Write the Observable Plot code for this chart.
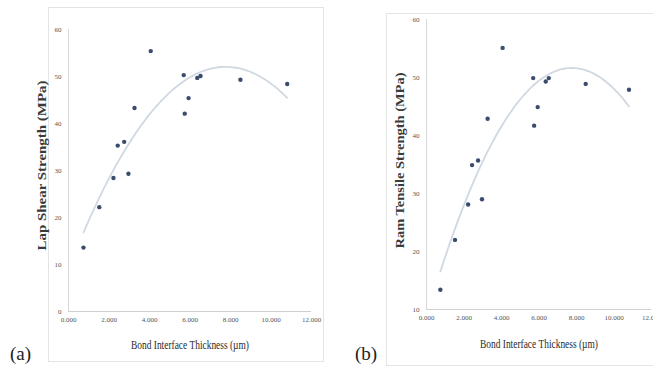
<!DOCTYPE html>
<html><head><meta charset="utf-8">
<script src="https://cdn.jsdelivr.net/npm/d3@7"></script>
<script src="https://cdn.jsdelivr.net/npm/@observablehq/plot@0.6"></script>
<style>
body{margin:0;background:#fff;}
#wrap{position:relative;width:653px;height:376px;overflow:hidden;background:#fff;font-family:"Liberation Serif",serif;}
.frame{position:absolute;border:1px solid #e4e4e4;box-sizing:border-box;}
.plot{position:absolute;top:0;}
.tag{position:absolute;font-size:19px;color:#222;line-height:1;}
</style></head><body>
<div id="wrap">
  <div class="frame" style="left:48px;top:7px;width:276px;height:355px;"></div>
  <div class="frame" style="left:386px;top:13px;width:280px;height:353px;"></div>
  <div id="pa" class="plot" style="left:0px;"></div>
  <div id="pb" class="plot" style="left:323px;"></div>
  <div class="tag" style="left:10px;top:344px;">(a)</div>
  <div class="tag" style="left:355px;top:344px;">(b)</div>
</div>
<script>
// Bond interface thickness (µm)
const thickness = [0.74, 1.52, 2.22, 2.43, 2.75, 2.96, 3.26, 4.06, 5.69, 5.74, 5.93, 6.36, 6.52, 8.49, 10.8];
// Lap shear strength (MPa) – panel (a)
const lapShear = [13.6, 22.2, 28.4, 35.3, 36.1, 29.3, 43.3, 55.4, 50.3, 42.1, 45.4, 49.7, 50.1, 49.3, 48.4];
// Ram tensile strength (MPa) – panel (b)
const ramTensile = [13.4, 22.0, 28.1, 34.9, 35.7, 29.0, 42.9, 55.1, 49.9, 41.7, 44.9, 49.3, 49.9, 48.9, 47.9];

const xTicks = [0, 2, 4, 6, 8, 10, 12];
const yTicksA = [0, 10, 20, 30, 40, 50, 60];
const yTicksB = [10, 20, 30, 40, 50, 60];
const xLabel = "Bond Interface Thickness (µm)";
const yLabelA = "Lap Shear Strength (MPa)";
const yLabelB = "Ram Tensile Strength (MPa)";

// least-squares polynomial (order 2) trendline, as in the spreadsheet chart
function polyFit(xs, ys) {
  const S = k => d3.sum(xs, x => x ** k);
  const T = k => d3.sum(xs, (x, i) => x ** k * ys[i]);
  const A = [[S(0), S(1), S(2)], [S(1), S(2), S(3)], [S(2), S(3), S(4)]];
  const b = [T(0), T(1), T(2)];
  for (let i = 0; i < 3; i++) {
    for (let j = i + 1; j < 3; j++) {
      const f = A[j][i] / A[i][i];
      for (let k = i; k < 3; k++) A[j][k] -= f * A[i][k];
      b[j] -= f * b[i];
    }
  }
  const c = [0, 0, 0];
  for (let i = 2; i >= 0; i--) {
    let s = b[i];
    for (let k = i + 1; k < 3; k++) s -= A[i][k] * c[k];
    c[i] = s / A[i][i];
  }
  return x => c[0] + c[1] * x + c[2] * x * x;
}

function trend(xs, ys) {
  const f = polyFit(xs, ys);
  const [lo, hi] = d3.extent(xs);
  return d3.range(0, 81).map(i => { const x = lo + (hi - lo) * i / 80; return {x, y: f(x)}; });
}

function panel(el, opts) {
  const {ys, yDomain, yTicks, yLabel, width, height, mL, mR, mT, mB, yDy, xLabDy, yLen} = opts;
  const pts = thickness.map((x, i) => ({x, y: ys[i]}));
  const fmt = d3.format(".3f");
  const p = Plot.plot({
    width, height,
    marginLeft: mL, marginRight: mR, marginTop: mT, marginBottom: mB,
    style: {background: "transparent", fontFamily: "'Liberation Serif', serif", overflow: "visible"},
    x: {domain: [0, 12], ticks: xTicks, tickFormat: fmt, tickSize: 0, tickPadding: 6, label: null},
    y: {domain: yDomain, ticks: yTicks, tickSize: 0, tickPadding: 7, label: null},
    marks: [
      Plot.ruleX([0], {stroke: "#d9d9d9", strokeWidth: 1}),
      Plot.ruleY([yDomain[0]], {stroke: "#d0d0d0", strokeWidth: 1.2}),
      Plot.line(trend(thickness, ys), {x: "x", y: "y", stroke: "#d0d8e1", strokeWidth: 1.8, curve: "basis"}),
      Plot.dot(pts, {x: "x", y: "y", r: 2.2, fill: "#3b4c6c", stroke: "none"}),
      Plot.text([xLabel], {frameAnchor: "bottom", dy: xLabDy, text: d => d, fontSize: 12, fill: "#2a2a2a"}),
      Plot.text([yLabel], {frameAnchor: "left", textAnchor: "middle", dx: -27, dy: yDy, rotate: -90, text: d => d, fontSize: 13, fontWeight: "bold", fill: "#3a3a3a"})
    ]
  });
  d3.select(p).selectAll("g[aria-label='x-axis tick label'], g[aria-label='y-axis tick label']")
    .attr("font-size", 7).attr("font-family", "'Liberation Serif', serif");
  d3.select(p).selectAll("g[aria-label='x-axis tick label'] text, g[aria-label='y-axis tick label'] text")
    .attr("fill", "#555");
  d3.select(p).selectAll("text").each(function() {
    if (this.textContent === xLabel) d3.select(this).attr("textLength", 118).attr("lengthAdjust", "spacingAndGlyphs");
    if (this.textContent === yLabel) d3.select(this).attr("textLength", yLen).attr("lengthAdjust", "spacingAndGlyphs");
  });
  document.getElementById(el).append(p);
}

panel("pa", {ys: lapShear, yDomain: [0, 60], yTicks: yTicksA, yLabel: yLabelA,
  width: 330, height: 376, mL: 68, mR: 19, mT: 29, mB: 65, yDy: -5, xLabDy: 37, yLen: 170});
panel("pb", {ys: ramTensile, yDomain: [10, 60], yTicks: yTicksB, yLabel: yLabelB,
  width: 330, height: 376, mL: 103, mR: 2, mT: 19, mB: 67, yDy: -4, xLabDy: 38, yLen: 176});
</script>
</body></html>
